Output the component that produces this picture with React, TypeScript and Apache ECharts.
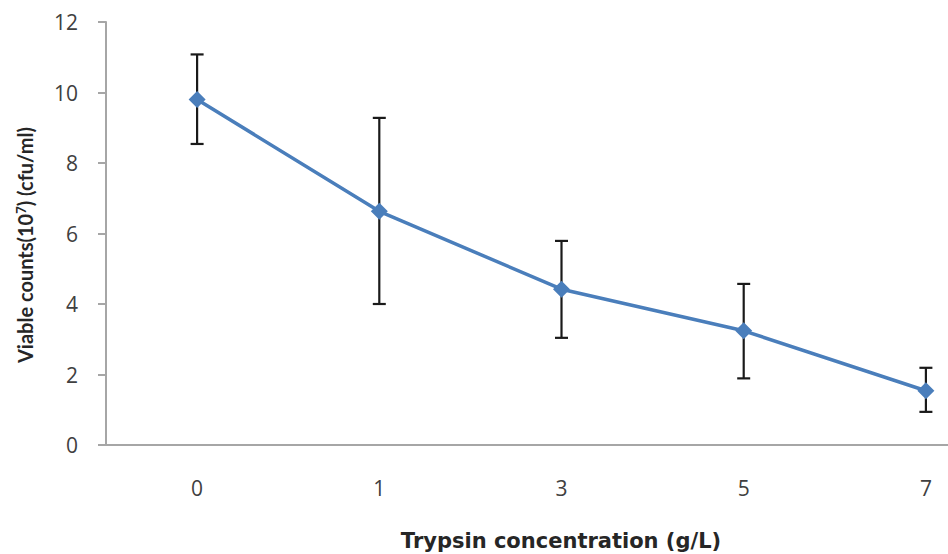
import React, { useEffect, useRef } from "react";
import * as echarts from "echarts";

const categories = ["0", "1", "3", "5", "7"];
const means = [9.8, 6.63, 4.42, 3.24, 1.54];
const errUpper = [11.08, 9.28, 5.79, 4.57, 2.19];
const errLower = [8.54, 4.0, 3.04, 1.89, 0.94];
const yTicks = { min: 0, max: 12, interval: 2 };
const yTitle = "Viable counts(10{sup|7}) (cfu/ml)";
const xTitle = "Trypsin concentration (g/L)";

export default function App() {
  const ref = useRef<HTMLDivElement>(null);
  useEffect(() => {
    if (!ref.current) return;
    const chart = echarts.init(ref.current, undefined, { renderer: "svg" });
    const errData = categories.map((_, i) => [i, errLower[i], errUpper[i]]);
    chart.setOption({
      animation: false,
      grid: { left: 106, right: -69, top: 22, bottom: 109, containLabel: false, outerBoundsMode: "none" },
      graphic: [
        {
          type: "text",
          x: 25,
          y: 245,
          rotation: Math.PI / 2,
          style: {
            text: yTitle,
            align: "center",
            verticalAlign: "middle",
            fill: "#262626",
            fontSize: 20,
            fontWeight: "bold",
            fontFamily: "Lato",
            rich: {
              sup: { fontSize: 13, fontWeight: "bold", fontFamily: "Lato", fill: "#262626", verticalAlign: "top", padding: [0, 0, 8, 0] },
            },
          },
        },
        {
          type: "text",
          x: 561,
          y: 541,
          style: {
            text: xTitle,
            align: "center",
            verticalAlign: "middle",
            fill: "#262626",
            fontSize: 21,
            fontWeight: "bold",
            fontFamily: "DejaVu Sans",
          },
        },
      ],
      xAxis: {
        type: "category",
        data: categories,
        boundaryGap: true,
        axisLine: { lineStyle: { color: "#a6a6a6", width: 2 } },
        axisTick: { show: false },
        axisLabel: { color: "#404040", fontSize: 21, fontFamily: "Open Sans", margin: 32 },
      },
      yAxis: {
        type: "value",
        min: yTicks.min,
        max: yTicks.max,
        interval: yTicks.interval,
        splitLine: { show: false },
        axisLine: { show: true, lineStyle: { color: "#a6a6a6", width: 2 } },
        axisTick: { show: true, length: 8, lineStyle: { color: "#a6a6a6", width: 2 } },
        axisLabel: { color: "#404040", fontSize: 21, fontFamily: "Open Sans", margin: 28 },
      },
      series: [
        {
          type: "custom",
          data: errData,
          z: 3,
          renderItem: (params: any, api: any) => {
            const i = api.value(0);
            const lo = api.coord([i, api.value(1)]);
            const hi = api.coord([i, api.value(2)]);
            const hw = 6.5;
            const style = { stroke: "#1a1a1a", lineWidth: 2.2 };
            return {
              type: "group",
              children: [
                { type: "line", shape: { x1: hi[0], y1: hi[1], x2: lo[0], y2: lo[1] }, style },
                { type: "line", shape: { x1: hi[0] - hw, y1: hi[1], x2: hi[0] + hw, y2: hi[1] }, style },
                { type: "line", shape: { x1: lo[0] - hw, y1: lo[1], x2: lo[0] + hw, y2: lo[1] }, style },
              ],
            };
          },
        },
        {
          type: "line",
          data: means,
          z: 5,
          symbol: "diamond",
          symbolSize: 17,
          lineStyle: { color: "#4a7ebb", width: 3.5 },
          itemStyle: { color: "#4a7ebb" },
        },
      ],
    });
    return () => chart.dispose();
  }, []);
  return <div ref={ref} style={{ width: 948, height: 554, position: "absolute", left: 0, top: 0, background: "#fff" }} />;
}
